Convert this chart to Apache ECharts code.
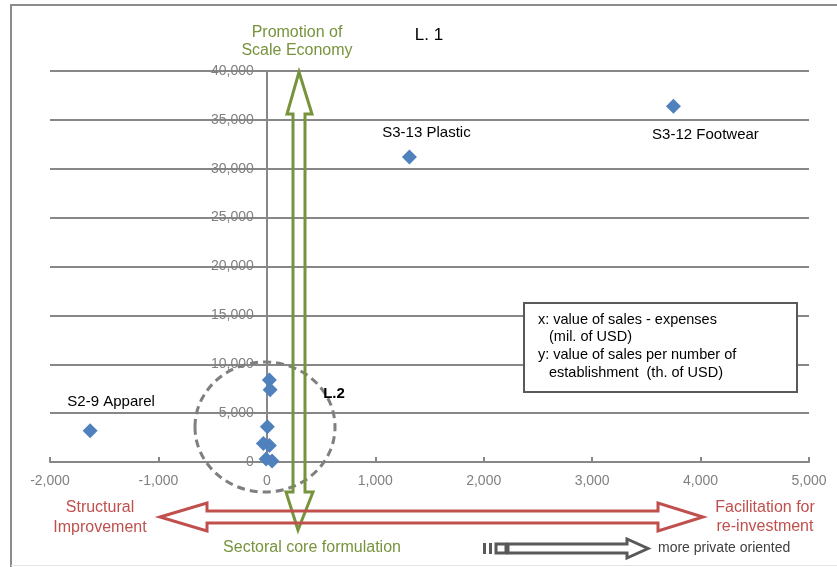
<!DOCTYPE html>
<html>
<head>
<meta charset="utf-8">
<script src="https://cdn.jsdelivr.net/npm/echarts@6/dist/echarts.min.js"></script>
<style>
  html, body { margin: 0; padding: 0; background: #ffffff; }
  #chart { width: 837px; height: 567px; }
</style>
</head>
<body>
<div id="chart"></div>
<script>
// Sector positions: x = value of sales - expenses (mil. USD),
// y = value of sales per number of establishments (th. USD)
const sectorNames = ['S3-12 Footwear', 'S3-13 Plastic', 'S2-9 Apparel', '', '', '', '', '', '', ''];
const salesMinusExpenses = [3750, 1315, -1630, 23, 30, 5, -32, 23, -7, 48];
const salesPerEstablishment = [36400, 31200, 3200, 8400, 7400, 3600, 1900, 1700, 300, 100];

// Axis ticks
const xTicks = [-2000, -1000, 0, 1000, 2000, 3000, 4000, 5000];
const yTicks = [0, 5000, 10000, 15000, 20000, 25000, 30000, 35000, 40000];

const FONT = "'Liberation Sans', Arial, sans-serif";
const GRID_GREY = '#878787';
const GREEN = '#77933C';
const RED = '#C0504D';
const DARK = '#595959';
const GRID_LEFT = 50;

// label placement relative to each named point
const labelOffsets = {
  'S3-12 Footwear': [32, 29],
  'S3-13 Plastic': [17, -24],
  'S2-9 Apparel': [21, -29]
};

const points = salesMinusExpenses.map((x, i) => {
  const name = sectorNames[i];
  const item = { name: name, value: [x, salesPerEstablishment[i]] };
  if (name) {
    item.label = {
      show: true,
      position: 'inside',
      offset: labelOffsets[name],
      formatter: '{b}',
      color: '#000000',
      textBorderWidth: 0,
      fontSize: 15,
      fontFamily: FONT
    };
  }
  return item;
});

const fmt = v => v.toLocaleString('en-US');

const chart = echarts.init(document.getElementById('chart'), null, { renderer: 'canvas' });

// hollow double-headed arrow outlines
const greenArrow = [
  [299, 72], [312, 114], [305, 114], [305, 492], [313, 492],
  [298, 530], [286, 492], [293, 492], [293, 114], [287, 114]
];
const redArrow = [
  [160, 517], [207, 503], [207, 511], [658, 511], [658, 503],
  [703, 517], [658, 531], [658, 523], [207, 523], [207, 531]
];
const greyArrow = [
  [508, 544], [627, 544], [627, 539], [648, 548.5],
  [627, 558], [627, 553], [508, 553]
];

chart.setOption({
  animation: false,
  backgroundColor: '#ffffff',
  grid: { left: GRID_LEFT, right: 28, top: 71, bottom: 105, containLabel: false, outerBoundsMode: 'none' },
  xAxis: {
    type: 'value',
    min: xTicks[0],
    max: xTicks[xTicks.length - 1],
    interval: xTicks[1] - xTicks[0],
    axisLine: { show: true, onZero: false, lineStyle: { color: GRID_GREY, width: 2 } },
    axisTick: { show: true, inside: true, length: 5, lineStyle: { color: GRID_GREY, width: 2 } },
    axisLabel: { color: '#808080', fontSize: 14, fontFamily: FONT, margin: 12, formatter: fmt },
    splitLine: { show: false }
  },
  yAxis: {
    type: 'value',
    min: yTicks[0],
    max: yTicks[yTicks.length - 1],
    interval: yTicks[1] - yTicks[0],
    axisLine: { show: true, onZero: false, lineStyle: { color: GRID_GREY, width: 2 } },
    axisTick: { show: true, length: 5, lineStyle: { color: GRID_GREY, width: 2 } },
    axisLabel: { color: '#808080', fontSize: 14, fontFamily: FONT, margin: 13, formatter: fmt },
    splitLine: { show: true, lineStyle: { color: GRID_GREY, width: 2 } }
  },
  series: [{
    type: 'scatter',
    symbol: 'diamond',
    symbolSize: 15,
    itemStyle: { color: '#4F81BD', opacity: 1 },
    data: points,
    z: 3
  }],
  graphic: [
    // chart frame
    { type: 'polyline', shape: { points: [[11, 567], [11, 5], [837, 5]] },
      style: { stroke: '#8c8c8c', lineWidth: 2, fill: 'none' }, silent: true },
    { type: 'line', shape: { x1: 11, y1: 565.5, x2: 837, y2: 565.5 },
      style: { stroke: '#e4e4e4', lineWidth: 1 }, silent: true },

    // explanation box
    { type: 'rect', shape: { x: 524, y: 303, width: 273, height: 89 },
      style: { fill: '#ffffff', stroke: DARK, lineWidth: 2 }, z: 10 },
    { type: 'text', z: 11, style: { x: 538, y: 320, text: 'x: value of sales - expenses', fill: '#000', font: '14.5px ' + FONT, textVerticalAlign: 'middle' } },
    { type: 'text', z: 11, style: { x: 549, y: 337, text: '(mil. of USD)', fill: '#000', font: '14.5px ' + FONT, textVerticalAlign: 'middle' } },
    { type: 'text', z: 11, style: { x: 538, y: 355, text: 'y: value of sales per number of', fill: '#000', font: '14.5px ' + FONT, textVerticalAlign: 'middle' } },
    { type: 'text', z: 11, style: { x: 549, y: 373, text: 'establishment  (th. of USD)', fill: '#000', font: '14.5px ' + FONT, textVerticalAlign: 'middle' } },

    // dashed ring around the cluster near the origin
    { type: 'ellipse', shape: { cx: 265, cy: 427, rx: 70, ry: 65 },
      style: { fill: 'none', stroke: '#7f7f7f', lineWidth: 3, lineDash: [8, 5] }, z: 5, silent: true },

    // arrows
    { type: 'polygon', shape: { points: greenArrow },
      style: { fill: 'none', stroke: GREEN, lineWidth: 3, lineJoin: 'miter' }, z: 6, silent: true },
    { type: 'polygon', shape: { points: redArrow },
      style: { fill: 'none', stroke: RED, lineWidth: 3, lineJoin: 'miter' }, z: 6, silent: true },

    // private orientation marker
    { type: 'rect', shape: { x: 483, y: 543, width: 3, height: 11 }, style: { fill: DARK } },
    { type: 'rect', shape: { x: 489, y: 543, width: 3, height: 11 }, style: { fill: DARK } },
    { type: 'rect', shape: { x: 496, y: 544, width: 10, height: 9 }, style: { fill: '#fff', stroke: DARK, lineWidth: 3 } },
    { type: 'polygon', shape: { points: greyArrow },
      style: { fill: 'none', stroke: DARK, lineWidth: 3, lineJoin: 'miter' } },

    // annotations
    { type: 'text', style: { x: 297, y: 42, text: 'Promotion of\nScale Economy', fill: GREEN, font: '16px ' + FONT, lineHeight: 18, textAlign: 'center', textVerticalAlign: 'middle' } },
    { type: 'text', style: { x: 429, y: 35, text: 'L. 1', fill: '#000', font: '17px ' + FONT, textAlign: 'center', textVerticalAlign: 'middle' } },
    { type: 'text', z: 12, style: { x: 334, y: 394, text: 'L.2', fill: '#000', font: 'bold 15px ' + FONT, textAlign: 'center', textVerticalAlign: 'middle' } },
    { type: 'text', style: { x: 100, y: 518, text: 'Structural\nImprovement', fill: RED, font: '16px ' + FONT, lineHeight: 20, textAlign: 'center', textVerticalAlign: 'middle' } },
    { type: 'text', style: { x: 765, y: 517, text: 'Facilitation for\nre-investment', fill: RED, font: '16px ' + FONT, lineHeight: 19, textAlign: 'center', textVerticalAlign: 'middle' } },
    { type: 'text', style: { x: 312, y: 548, text: 'Sectoral core formulation', fill: GREEN, font: '16px ' + FONT, textAlign: 'center', textVerticalAlign: 'middle' } },
    { type: 'text', style: { x: 658, y: 548, text: 'more private oriented', fill: '#404040', font: '14px ' + FONT, textAlign: 'left', textVerticalAlign: 'middle' } }
  ]
});

// place the value axis so that it crosses the horizontal axis at x = 0
// (repeated so the offset settles on the final grid layout)
for (let pass = 0; pass < 3; pass++) {
  const gridLeftPx = chart.convertToPixel({ xAxisIndex: 0 }, xTicks[0]);
  const zeroX = chart.convertToPixel({ xAxisIndex: 0 }, 0);
  chart.setOption({ yAxis: { offset: -(zeroX - gridLeftPx) } });
}
</script>
</body>
</html>
